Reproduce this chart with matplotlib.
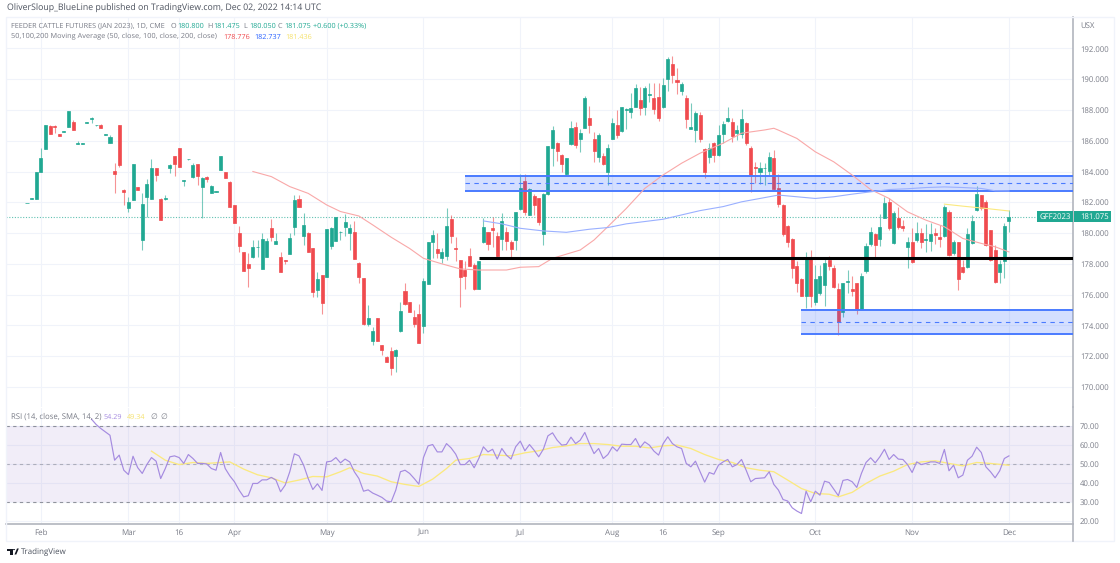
import numpy as np
import matplotlib
matplotlib.use('Agg')
import matplotlib.pyplot as plt
from matplotlib.patches import Rectangle, Circle, Polygon

opens = [181.95, 182.24, 182.2, 183.95, 185.46, 186.95, 186.95, 186.44, 186.58, 186.9,
         187.25, 185.82, 185.82, 187.18, 187.4, 187.0, 187.05, 186.38, 185.87, 184.05,
         187.0, 182.8, 181.6, 182.17, 183.0, 179.57, 182.36, 182.2, 184.2, 182.2,
         182.22, 184.2, 185.0, 185.5, 183.4, 184.8, 183.67, 184.5, 183.0, 183.67,
         182.6, 182.7, 184.1, 183.95, 183.35, 181.83, 180.0, 178.77, 178.0, 178.47,
         179.08, 177.65, 178.47, 180.3, 179.3, 178.47, 178.25, 178.64, 180.4, 182.2,
         179.83, 180.0, 179.0, 176.3, 177.26, 177.15, 179.18, 179.5, 180.08, 180.38,
         180.0, 180.1, 178.08, 177.08, 174.09, 173.0, 174.46, 172.7, 171.97, 172.36,
         172.0, 173.66, 176.26, 175.5, 174.55, 174.77, 173.99, 176.7, 179.44, 178.95,
         178.38, 178.5, 180.9, 179.0, 178.25, 177.6, 178.49, 177.93, 176.37, 179.4,
         180.05, 180.36, 179.84, 179.62, 180.05, 179.4, 179.55, 181.57, 183.39, 181.18,
         182.43, 182.26, 179.94, 182.54, 185.51, 185.88, 185.06, 183.82, 185.77, 186.92,
         186.14, 186.83, 187.5, 186.12, 184.97, 185.03, 183.97, 186.12, 187.03, 186.64,
         188.0, 187.89, 188.22, 188.65, 188.22, 189.0, 188.8, 188.87, 188.17, 190.0,
         190.99, 189.95, 189.26, 188.8, 186.79, 186.7, 187.68, 185.45, 184.97, 185.84,
         185.08, 186.42, 187.29, 187.22, 186.49, 186.42, 187.18, 185.51, 184.32, 184.0,
         184.21, 184.04, 184.9, 182.91, 181.82, 180.47, 179.59, 177.87, 177.0, 175.93,
         178.46, 175.54, 176.08, 176.62, 178.24, 177.74, 176.36, 174.89, 176.84, 176.36,
         176.73, 175.04, 177.55, 179.26, 179.93, 179.63, 181.0, 182.0, 179.33, 180.97,
         180.47, 179.07, 179.39, 179.54, 180.0, 179.54, 179.5, 179.98, 179.72, 179.8,
         181.36, 178.7, 179.41, 177.81, 177.81, 179.33, 181.49, 182.47, 182.03, 180.19,
         178.89, 177.44, 178.2, 180.8]
highs = [181.97, 182.27, 184.0, 185.5, 187.0, 187.02, 187.0, 186.46, 186.62, 187.9,
         187.33, 186.0, 185.85, 187.22, 187.55, 187.03, 187.07, 186.42, 186.37, 184.57,
         187.0, 182.85, 182.35, 184.5, 183.02, 182.6, 183.5, 184.8, 184.22, 182.25,
         182.5, 184.5, 185.0, 185.5, 183.45, 184.83, 184.55, 184.5, 183.65, 183.7,
         183.1, 182.73, 185.0, 183.98, 183.38, 181.85, 180.46, 178.8, 178.7, 179.55,
         179.55, 180.0, 179.65, 180.9, 180.0, 178.8, 178.27, 180.0, 182.5, 182.5,
         181.3, 180.1, 179.0, 177.5, 177.3, 180.25, 180.4, 181.05, 180.12, 181.24,
         180.6, 180.8, 178.1, 177.1, 175.3, 173.9, 174.48, 172.72, 172.0, 172.6,
         172.45, 175.5, 176.74, 175.52, 175.0, 175.4, 177.06, 179.42, 180.2, 180.0,
         179.0, 181.6, 181.18, 179.77, 178.27, 178.2, 179.0, 178.03, 178.21, 180.96,
         180.07, 181.07, 180.1, 181.29, 180.42, 179.55, 181.35, 183.84, 183.84, 182.9,
         182.52, 182.3, 182.58, 185.66, 186.96, 185.95, 185.15, 184.9, 187.31, 187.24,
         186.75, 188.91, 188.28, 186.55, 186.49, 185.19, 185.77, 187.5, 188.0, 188.2,
         188.15, 189.08, 189.67, 189.52, 189.56, 189.73, 189.73, 189.73, 190.06, 191.42,
         191.51, 190.75, 189.84, 188.98, 188.43, 187.96, 187.89, 185.5, 185.84, 185.94,
         187.03, 187.31, 188.22, 187.46, 187.03, 188.04, 187.22, 185.66, 184.64, 184.64,
         184.54, 185.29, 185.4, 183.84, 181.88, 180.5, 179.65, 178.2, 177.05, 178.78,
         178.89, 177.92, 177.92, 178.46, 178.5, 177.92, 176.73, 176.78, 177.59, 177.22,
         176.78, 177.38, 179.33, 180.41, 179.98, 181.23, 182.36, 182.29, 181.43, 181.71,
         180.84, 179.76, 180.3, 180.69, 180.3, 180.56, 180.63, 180.3, 180.52, 181.82,
         181.49, 179.54, 179.45, 178.24, 180.3, 181.17, 183.05, 182.5, 182.14, 180.22,
         179.22, 178.24, 180.67, 181.475]
lows = [181.93, 182.22, 182.2, 183.95, 185.46, 186.41, 186.5, 186.33, 186.58, 186.9,
        186.7, 185.8, 185.8, 187.16, 187.15, 186.98, 186.83, 186.36, 185.85, 182.6,
        184.3, 181.8, 181.35, 182.15, 182.8, 178.9, 181.06, 182.2, 183.4, 180.85,
        182.15, 183.9, 183.7, 184.3, 183.05, 184.78, 183.6, 183.13, 181.0, 183.3,
        182.6, 182.68, 184.1, 183.55, 181.7, 180.68, 178.8, 177.54, 176.5, 178.4,
        178.47, 177.65, 178.47, 179.5, 179.3, 177.5, 178.0, 178.64, 179.9, 181.7,
        179.2, 178.8, 175.87, 175.87, 174.75, 177.15, 178.95, 179.5, 179.55, 179.8,
        178.9, 178.34, 176.74, 174.0, 173.96, 172.73, 172.97, 172.1, 171.6, 170.8,
        171.0, 173.55, 175.3, 174.85, 173.9, 172.86, 173.53, 176.7, 178.36, 178.36,
        178.04, 178.25, 179.34, 178.2, 175.18, 176.37, 177.88, 176.28, 176.35, 179.38,
        178.9, 179.12, 178.43, 178.9, 178.9, 178.36, 178.9, 181.5, 181.18, 181.15,
        181.18, 180.53, 179.23, 182.5, 184.36, 184.69, 183.95, 183.71, 185.73, 185.51,
        185.29, 186.8, 186.53, 184.64, 184.64, 184.43, 183.13, 186.1, 186.16, 186.6,
        186.75, 187.5, 188.2, 187.68, 187.68, 188.54, 187.72, 187.27, 188.1, 189.24,
        189.78, 189.06, 188.98, 186.81, 186.75, 185.94, 185.94, 183.56, 184.54, 184.64,
        185.03, 185.84, 187.25, 185.94, 186.05, 186.16, 185.73, 182.69, 183.24, 183.17,
        183.13, 183.78, 182.8, 181.72, 179.8, 179.07, 177.05, 176.14, 175.93, 175.15,
        175.2, 175.32, 175.97, 175.28, 177.6, 176.45, 173.37, 174.56, 176.08, 175.93,
        174.71, 175.0, 177.38, 179.15, 178.46, 179.17, 180.95, 180.19, 179.28, 180.24,
        180.15, 177.7, 178.07, 179.43, 179.0, 178.78, 178.85, 179.28, 179.1, 179.72,
        178.5, 178.57, 176.29, 177.38, 177.7, 179.28, 181.45, 181.49, 179.18, 178.2,
        176.73, 176.77, 177.05, 180.05]
closes = [181.97, 182.27, 184.0, 184.9, 187.0, 186.41, 186.9, 186.33, 186.62, 187.9,
          186.7, 185.85, 185.85, 187.2, 187.5, 187.0, 186.83, 186.42, 186.26, 183.85,
          184.4, 182.67, 182.04, 184.5, 182.8, 181.9, 183.2, 184.2, 183.8, 180.85,
          182.3, 184.4, 184.5, 184.3, 183.45, 184.82, 184.4, 183.7, 183.55, 183.5,
          183.05, 182.72, 185.0, 183.6, 181.7, 180.68, 179.18, 177.54, 177.7, 179.1,
          179.12, 179.64, 179.5, 179.73, 179.5, 177.5, 178.2, 179.7, 182.15, 181.7,
          180.5, 178.8, 176.15, 177.0, 175.48, 180.25, 180.3, 181.05, 180.1, 180.74,
          180.3, 178.34, 177.13, 174.09, 174.46, 173.64, 172.97, 172.4, 171.6, 171.24,
          172.4, 174.94, 175.37, 174.85, 174.07, 172.86, 176.9, 179.42, 179.88, 178.73,
          178.75, 180.46, 179.8, 178.95, 177.17, 177.23, 177.88, 176.35, 178.21, 180.38,
          179.32, 180.18, 178.54, 180.79, 179.47, 178.97, 181.35, 182.95, 181.4, 182.85,
          181.83, 180.7, 182.54, 185.66, 186.72, 185.34, 184.49, 184.9, 186.83, 185.73,
          186.49, 188.76, 187.03, 185.32, 186.38, 184.47, 185.55, 187.18, 186.38, 188.17,
          188.09, 188.11, 189.45, 188.15, 189.41, 189.04, 188.04, 187.46, 189.63, 191.29,
          190.3, 189.8, 189.69, 187.42, 186.9, 187.83, 186.12, 184.0, 185.51, 185.08,
          186.38, 187.09, 187.48, 186.31, 186.7, 187.39, 185.88, 183.78, 184.21, 184.21,
          184.25, 184.97, 182.85, 181.89, 179.91, 179.43, 177.7, 176.77, 175.93, 178.39,
          175.93, 177.01, 177.22, 178.07, 177.85, 176.51, 174.24, 176.73, 176.9, 176.25,
          175.0, 177.22, 179.17, 180.04, 179.22, 180.37, 181.97, 180.3, 181.28, 180.41,
          180.3, 179.43, 178.13, 179.98, 179.43, 179.63, 179.91, 179.85, 179.63, 181.71,
          178.57, 179.41, 177.0, 177.44, 179.95, 180.78, 182.57, 181.64, 179.22, 178.24,
          176.84, 177.98, 180.45, 181.075]

ma50_bars = [49, 53, 57, 61, 65, 68, 72, 75, 79, 83, 86, 90, 94, 98, 104, 107, 111, 114, 120, 123,
             126, 130, 134, 138, 142, 146, 151, 155, 160, 162, 163, 167, 171, 175, 179, 183, 187,
             191, 195, 199, 203, 207, 210, 213]
ma50 = [184.0, 183.67, 183.02, 182.58, 181.83, 181.4, 181.11, 180.53, 179.73, 179.0, 178.36, 178.0,
        177.67, 177.6, 177.6, 177.78, 177.82, 178.36, 178.9, 179.55, 180.42, 181.6, 182.9, 183.78,
        184.54, 185.19, 185.84, 186.49, 186.7, 186.81, 186.69, 186.15, 185.28, 184.63, 183.77,
        182.83, 182.25, 181.38, 180.84, 180.41, 179.65, 179.33, 179.11, 178.776]
ma100_bars = [99, 103, 107, 112, 117, 122, 126, 130, 138, 142, 146, 151, 155, 159, 163, 167, 171,
              175, 179, 183, 187, 191, 195, 199, 203, 207, 210, 213]
ma100 = [180.79, 180.6, 180.31, 180.14, 180.05, 180.25, 180.36, 180.6, 180.9, 181.18, 181.46, 181.72,
         182.03, 182.25, 182.47, 182.36, 182.25, 182.36, 182.53, 182.68, 182.83, 182.88, 182.96,
         183.0, 182.96, 182.9, 182.75, 182.737]
ma200_bars = [199, 203, 208, 213]
ma200 = [181.88, 181.75, 181.6, 181.436]

rsi_start = 14
rsi = [73.7, 70.9, 68.8, 67, 65.2, 52, 54.7, 46.7, 44.4, 54.1,
       48.1, 45, 49.7, 53.4, 51.5, 42.3, 47.6, 53.8, 54.3, 53.4,
       50.3, 55, 52.9, 50.3, 50.3, 50, 47.6, 46.7, 56.1, 47.6,
       43.7, 40.6, 36.2, 32.6, 33.2, 39.7, 39.7, 41.6, 41.6, 42.9,
       41.5, 35.3, 38.8, 45.9, 55.4, 54.3, 49.4, 42.3, 36.5, 39.5,
       36, 51.1, 51.5, 53.4, 50.6, 52.6, 51.1, 45.9, 42.3, 35.6,
       36.3, 34.6, 33.5, 32.3, 30.4, 30, 36.2, 45.9, 46.7, 45,
       42.3, 39.3, 53.4, 59.6, 60.3, 56.4, 56.4, 60.8, 58.5, 55.2,
       49.7, 49.7, 52, 48, 52.9, 59.1, 56.4, 57.8, 52.6, 58.2,
       54.7, 52.6, 59.1, 62.1, 57, 60.3, 57.3, 53.8, 57.8, 64.9,
       66.5, 62.6, 60, 60.3, 64.2, 60.8, 62.6, 66.7, 60.8, 55.5,
       58.2, 52.9, 55, 59.1, 56.8, 60.5, 60.3, 60.3, 63.5, 58.7,
       61.7, 60, 56.8, 54.7, 60.8, 64.4, 60.8, 59.1, 58.2, 50.3,
       48.5, 51.5, 45.9, 40.4, 45.5, 44.6, 49.4, 51.1, 52.4, 48.5,
       49.7, 52.4, 46.7, 40.6, 42.3, 42.5, 42.7, 45.9, 39.2, 36.2,
       31.2, 30.4, 26.8, 25.1, 23.8, 35.6, 30, 35.6, 33.5, 40.9,
       40.2, 36.7, 33.2, 41.3, 41.8, 40.6, 37.6, 45, 50.8, 53.3,
       50.6, 53.8, 57.8, 52.4, 55, 52.6, 52.4, 49.7, 45.5, 51.1,
       49.7, 50.3, 51.1, 51.1, 50.3, 57.7, 46.4, 49.4, 42.7, 44.1,
       52, 54.1, 58.9, 56.1, 48.5, 45.9, 42.7, 46.4, 52.9, 54.29]
rsi_ma_bars = [27, 30, 33, 36, 39, 42, 44, 47, 50, 53, 56, 59, 62, 65, 68, 70, 73, 76, 79, 82, 85, 88,
               91, 93, 96, 99, 102, 105, 108, 111, 114, 117, 120, 123, 126, 129, 132, 135, 138, 141,
               144, 147, 150, 153, 156, 159, 162, 165, 168, 171, 174, 176, 179, 182, 185, 188, 191,
               194, 197, 200, 203, 206, 209, 213]
rsi_ma = [56.8, 52, 49.7, 50.8, 50.3, 50.8, 51.1, 47.3, 44.3, 42.7, 40, 41.5, 43.4, 43.2, 45.9, 48, 45,
          43.6, 40.6, 39.2, 38.1, 42, 47.6, 52, 52.9, 55, 54.7, 54.3, 55.9, 57, 58.7, 59.6, 60.8, 60.8,
          60.3, 59.4, 59.4, 58.5, 59.6, 60, 58.2, 55, 52.4, 50.8, 48, 46.7, 45.9, 41.5, 37, 34.4, 34,
          32.6, 35, 39.7, 43.6, 46.2, 49.7, 51.1, 51.7, 50.3, 49, 50.8, 50.3, 49.34]

price_ticks = [170, 172, 174, 176, 178, 180, 182, 184, 186, 188, 190, 192]
rsi_ticks = [20, 30, 40, 50, 60, 70]
date_bars = [3, 22, 33, 45, 65, 86, 107, 127, 138, 150, 171, 192, 213]
date_labels = ['Feb', 'Mar', '16', 'Apr', 'May', 'Jun', 'Jul', 'Aug', '16', 'Sep', 'Oct', 'Nov', 'Dec']

UP = '#20a892'
DOWN = '#f04b4f'
GRID = '#f0f3fa'
GREY = '#787b86'
BLUE = '#2962ff'
PURPLE = '#a58be0'
YELLOW = '#fbe97f'
W, H = 1120, 563
AX_L, AX_R = 6.3, 1073
TXT = 5.6
NUM = 5.2

plt.rcParams['font.family'] = ['Open Sans', 'DejaVu Sans']
plt.rcParams['font.size'] = TXT
plt.rcParams['text.hinting'] = 'no_hinting'

fig = plt.figure(figsize=(W / 100, H / 100), dpi=100)


def pane(top, bottom):
    return fig.add_axes([AX_L / W, 1 - bottom / H, (AX_R - AX_L) / W, (bottom - top) / H])


def px_text(x, y, s, color=GREY, **kw):
    kw.setdefault('fontsize', TXT)
    fig.text(x / W, 1 - y / H, s, color=color, va='center', **kw)


def to_fig(x, y):
    return x / W, 1 - y / H


# outer frame of the snapshot
fig.add_artist(Rectangle((AX_L / W, 1 - 540.7 / H), (1114 - AX_L) / W, (540.7 - 16.7) / H,
                         transform=fig.transFigure, fill=False, ec=GRID, lw=1))

ax = pane(16.7, 406.5)
ax2 = pane(407.5, 523.7)
xlim = ((AX_L - 27) / 4.61, (AX_R - 27) / 4.61)

for a in (ax, ax2):
    a.set_xlim(*xlim)
    a.yaxis.tick_right()
    a.grid(True, color=GRID, lw=0.8)
    a.set_axisbelow(True)
    a.set_xticks(date_bars)
    for s in ('top', 'left', 'bottom'):
        a.spines[s].set_visible(False)
    a.spines['right'].set_color('#b2b5be')
    a.spines['right'].set_linewidth(1.2)
    a.tick_params(axis='y', length=0, labelcolor=GREY, labelsize=TXT, pad=5)
    a.tick_params(axis='x', length=0, labelcolor=GREY, labelsize=5.8, pad=3.5)

# candles
bars = np.arange(len(opens))
o, h, l, c = map(np.array, (opens, highs, lows, closes))
colors = np.where(c >= o, UP, DOWN)
ax.vlines(bars, l, h, colors=colors, lw=0.8, alpha=0.6, zorder=2)
ax.bar(bars, np.abs(c - o), bottom=np.minimum(o, c), width=0.66, color=colors,
       edgecolor=colors, lw=0.5, zorder=3)

# zones from bar 95 and bar 168 to the right edge
for first, bot, top in [(95, 182.75, 183.72), (168, 173.43, 175.02)]:
    ax.add_patch(Rectangle((first, bot), xlim[1] - first, top - bot, fc=BLUE, alpha=0.2, ec='none', zorder=4))
    ax.plot([first, xlim[1]], [top, top], color='#4a7bff', lw=1.4, zorder=5, solid_capstyle='butt')
    ax.plot([first, xlim[1]], [bot, bot], color='#4a7bff', lw=1.4, zorder=5, solid_capstyle='butt')
    ax.plot([first, xlim[1]], [(top + bot) / 2] * 2, color='#4a7bff', lw=0.8, ls=(0, (4, 4)), zorder=5)
ax.plot([98, xlim[1]], [178.37, 178.37], color='black', lw=2.2, zorder=7, solid_capstyle='butt')

ax.plot(ma50_bars, ma50, color='#f9a8a8', lw=0.8, zorder=6)
ax.plot(ma100_bars, ma100, color='#9ab0ff', lw=0.8, zorder=6)
ax.plot(ma200_bars, ma200, color=YELLOW, lw=0.8, zorder=6)
ax.axhline(closes[-1], color=UP, lw=0.8, ls=(0, (1, 1.5)), alpha=0.7, zorder=1)

ax.set_ylim(192 - (406.5 - 48.4) / 15.39, 192 + (48.4 - 16.7) / 15.39)
ax.set_yticks(price_ticks)
ax.set_yticklabels(['%.3f' % t for t in price_ticks])
ax.tick_params(labelbottom=False)

# rsi pane
ax2.axhspan(30, 70, color='#7e57c2', alpha=0.1, lw=0)
ax2.axhline(70, color=GREY, lw=0.8, ls=(0, (3, 3)), alpha=0.8)
ax2.axhline(50, color=GREY, lw=0.8, ls=(0, (3, 3)), alpha=0.5)
ax2.axhline(30, color=GREY, lw=0.8, ls=(0, (3, 3)), alpha=0.8)
ax2.plot(np.arange(len(rsi)) + rsi_start, rsi, color=PURPLE, lw=0.85, zorder=4)
ax2.plot(rsi_ma_bars, rsi_ma, color=YELLOW, lw=0.95, zorder=3)
ax2.set_ylim(18.4, 79.9)
ax2.set_yticks(rsi_ticks)
ax2.set_yticklabels(['%.2f' % t for t in rsi_ticks])
ax2.set_xticklabels(date_labels)
ax2.spines['bottom'].set_visible(True)
ax2.spines['bottom'].set_color('#b2b5be')
ax2.spines['bottom'].set_linewidth(1.2)
fig.add_artist(plt.Line2D([AX_R / W, AX_R / W], [1 - 540.7 / H, 1 - 523.7 / H], color='#b2b5be', lw=1.2))

# header texts
px_text(7, 8.5, 'OliverSloup_BlueLine published on TradingView.com, Dec 02, 2022 14:14 UTC', color='#4c525e', fontsize=6.3)
px_text(11, 26, 'FEEDER CATTLE FUTURES (JAN 2023), 1D, CME', fontsize=5.2)
for x, letter, val in [(171, 'O', '180.800'), (207, 'H', '181.475'), (243, 'L', '180.050'), (278, 'C', '181.075')]:
    px_text(x, 26, letter, fontsize=NUM)
    px_text(x + 6, 26, val, color=UP, fontsize=NUM)
px_text(313, 26, '+0.600 (+0.33%)', color=UP, fontsize=NUM)
px_text(11, 37, '50,100,200 Moving Average (50, close, 100, close, 200, close)', fontsize=5.3)
px_text(223, 37, '178.776', color=DOWN, fontsize=NUM)
px_text(254, 37, '182.737', color=BLUE, fontsize=NUM)
px_text(285, 37, '181.436', color='#f5e16b', fontsize=NUM)
px_text(11, 417, 'RSI (14, close, SMA, 14, 2)')
px_text(104, 417, '54.29', color=PURPLE, fontsize=NUM)
px_text(127, 417, '49.34', color='#f5e16b', fontsize=NUM)
px_text(150, 417, '∅')
px_text(160, 417, '∅')
px_text(1080, 25.5, 'USX')

# last price badges
y_last = 48.4 + (192 - closes[-1]) * 15.39
fig.add_artist(Rectangle((1037 / W, 1 - (y_last + 5.5) / H), 36 / W, 11 / H, transform=fig.transFigure, fc=UP, ec='none'))
fig.add_artist(Rectangle((1073.5 / W, 1 - (y_last + 5.5) / H), 37 / W, 11 / H, transform=fig.transFigure, fc=UP, ec='none'))
px_text(1040, y_last, 'GFF2023', color='white')
px_text(1080, y_last, '%.3f' % closes[-1], color='white')

# tradingview logo
logo = '#131722'
fig.add_artist(Polygon([to_fig(7, 548.5), to_fig(12.5, 548.5), to_fig(12.5, 554.5), to_fig(10, 554.5), to_fig(10, 551), to_fig(7, 551)],
                       transform=fig.transFigure, fc=logo, ec='none'))
fig.add_artist(Polygon([to_fig(14.5, 554.5), to_fig(17, 548.5), to_fig(18.8, 548.5), to_fig(16.3, 554.5)],
                       transform=fig.transFigure, fc=logo, ec='none'))
fig.add_artist(Circle(to_fig(14, 549.6), 1.1 / W, transform=fig.transFigure, fc=logo, ec='none'))
px_text(21, 552, 'TradingView', color='#4c525e', fontsize=5.8)

fig.savefig('out.png', dpi=100)
